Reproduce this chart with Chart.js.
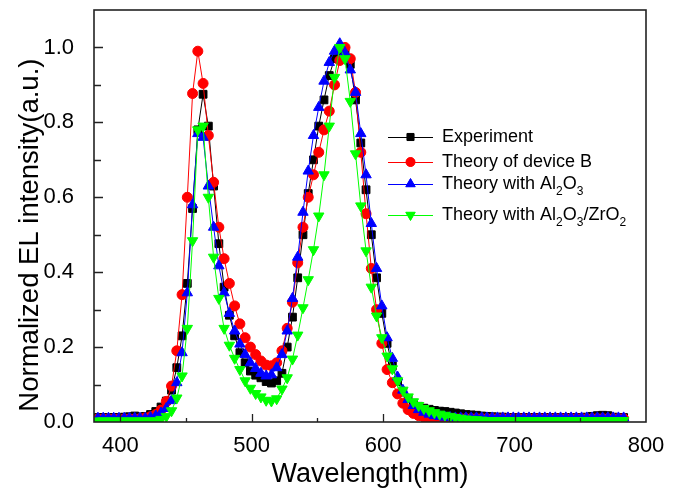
<!DOCTYPE html>
<html>
<head>
<meta charset="utf-8">
<script src="https://cdn.jsdelivr.net/npm/chart.js@4.4.1/dist/chart.umd.min.js"></script>
<style>
  body { margin: 0; background: #fff; }
  #wrap { width: 677px; height: 491px; }
</style>
</head>
<body>
<div id="wrap"><canvas id="c" width="677" height="491"></canvas></div>
<script>
// wavelength grid (nm)
const wavelength = [
  383, 387, 391, 395, 399, 403, 407, 411, 415, 419, 423, 427, 431, 435, 439, 443, 447, 451, 455, 459,
  463, 467, 471, 475, 479, 483, 487, 491, 495, 499, 503, 507, 511, 515, 519, 523, 527, 531, 535, 539,
  543, 547, 551, 555, 559, 563, 567, 571, 575, 579, 583, 587, 591, 595, 599, 603, 607, 611, 615, 619,
  623, 627, 631, 635, 639, 643, 647, 651, 655, 659, 663, 667, 671, 675, 679, 683, 687, 691, 695, 699,
  703, 707, 711, 715, 719, 723, 727, 731, 735, 739, 743, 747, 751, 755, 759, 763, 767, 771, 775, 779,
  783
];

const experiment = [
  0.012, 0.012, 0.011, 0.012, 0.012, 0.013, 0.014, 0.016, 0.013, 0.015, 0.020, 0.028, 0.040, 0.056, 0.085, 0.145, 0.230, 0.370, 0.570, 0.780,
  0.875, 0.790, 0.630, 0.476, 0.360, 0.285, 0.230, 0.185, 0.158, 0.136, 0.125, 0.118, 0.108, 0.104, 0.110, 0.130, 0.200, 0.280, 0.385, 0.500,
  0.610, 0.700, 0.790, 0.860, 0.925, 0.970, 0.990, 0.985, 0.955, 0.860, 0.745, 0.620, 0.500, 0.385, 0.290, 0.210, 0.150, 0.108, 0.080, 0.062,
  0.050, 0.042, 0.037, 0.034, 0.031, 0.029, 0.028, 0.026, 0.024, 0.022, 0.020, 0.019, 0.018, 0.016, 0.015, 0.014, 0.013, 0.013, 0.012, 0.012,
  0.012, 0.012, 0.012, 0.012, 0.012, 0.012, 0.012, 0.012, 0.012, 0.012, 0.012, 0.012, 0.012, 0.013, 0.015, 0.017, 0.018, 0.017, 0.013, 0.012,
  0.012
];

const deviceB = [
  0.008, 0.008, 0.008, 0.008, 0.008, 0.008, 0.008, 0.008, 0.009, 0.011, 0.014, 0.020, 0.032, 0.055, 0.096, 0.190, 0.340, 0.600, 0.877, 0.990,
  0.904, 0.765, 0.640, 0.520, 0.436, 0.370, 0.310, 0.262, 0.225, 0.200, 0.180, 0.163, 0.152, 0.150, 0.158, 0.190, 0.250, 0.320, 0.425, 0.520,
  0.600, 0.660, 0.720, 0.780, 0.830, 0.900, 0.965, 1.000, 0.970, 0.880, 0.720, 0.556, 0.410, 0.300, 0.210, 0.140, 0.105, 0.075, 0.050, 0.033,
  0.023, 0.017, 0.013, 0.011, 0.010, 0.009, 0.009, 0.009, 0.009, 0.009, 0.009, 0.009, 0.009, 0.009, 0.009, 0.009, 0.009, 0.009, 0.009, 0.009,
  0.009, 0.009, 0.009, 0.009, 0.009, 0.009, 0.009, 0.009, 0.009, 0.009, 0.009, 0.009, 0.009, 0.009, 0.009, 0.009, 0.009, 0.009, 0.009, 0.009,
  0.009
];

const withAl2O3 = [
  0.010, 0.010, 0.010, 0.010, 0.010, 0.010, 0.010, 0.010, 0.010, 0.010, 0.012, 0.016, 0.024, 0.036, 0.057, 0.105, 0.185, 0.345, 0.580, 0.770,
  0.760, 0.630, 0.520, 0.417, 0.345, 0.290, 0.243, 0.208, 0.180, 0.158, 0.143, 0.130, 0.123, 0.126, 0.145, 0.180, 0.243, 0.330, 0.440, 0.560,
  0.670, 0.765, 0.840, 0.910, 0.960, 0.990, 1.010, 0.985, 0.940, 0.880, 0.770, 0.660, 0.530, 0.410, 0.310, 0.225, 0.170, 0.120, 0.085, 0.060,
  0.044, 0.033, 0.026, 0.021, 0.017, 0.015, 0.013, 0.012, 0.011, 0.011, 0.011, 0.011, 0.011, 0.011, 0.011, 0.011, 0.011, 0.011, 0.011, 0.011,
  0.011, 0.011, 0.011, 0.011, 0.011, 0.011, 0.011, 0.011, 0.011, 0.011, 0.011, 0.011, 0.011, 0.011, 0.011, 0.011, 0.011, 0.011, 0.011, 0.011,
  0.011
];

const withAl2O3ZrO2 = [
  0.003, 0.003, 0.003, 0.003, 0.003, 0.003, 0.003, 0.003, 0.003, 0.003, 0.003, 0.003, 0.007, 0.015, 0.030, 0.064, 0.123, 0.250, 0.484, 0.780,
  0.790, 0.600, 0.440, 0.330, 0.250, 0.205, 0.170, 0.140, 0.110, 0.090, 0.076, 0.067, 0.058, 0.056, 0.062, 0.088, 0.118, 0.168, 0.232, 0.305,
  0.380, 0.460, 0.550, 0.660, 0.790, 0.920, 1.000, 0.970, 0.856, 0.716, 0.577, 0.457, 0.360, 0.283, 0.225, 0.176, 0.142, 0.110, 0.085, 0.067,
  0.054, 0.044, 0.036, 0.030, 0.025, 0.021, 0.018, 0.015, 0.012, 0.010, 0.008, 0.007, 0.006, 0.005, 0.004, 0.004, 0.004, 0.004, 0.004, 0.004,
  0.004, 0.004, 0.004, 0.004, 0.004, 0.004, 0.004, 0.004, 0.004, 0.004, 0.004, 0.004, 0.004, 0.004, 0.004, 0.004, 0.004, 0.004, 0.004, 0.004,
  0.004
];

const seriesNames = ['Experiment', 'Theory of device B', 'Theory with Al\u2082O\u2083', 'Theory with Al\u2082O\u2083/ZrO\u2082'];
const xMajor = [400, 500, 600, 700, 800];
const xMinor = [450, 550, 650, 750];
const yMajor = [0.0, 0.2, 0.4, 0.6, 0.8, 1.0];
const yMinor = [0.1, 0.3, 0.5, 0.7, 0.9];

const FONT = '"Liberation Sans", Arial, sans-serif';

const styles = [
  { color: '#000000', pointStyle: 'rect', radius: 5.5, rotation: 0, order: 4 },
  { color: '#ff0000', pointStyle: 'circle', radius: 5, rotation: 0, order: 3 },
  { color: '#0000ff', pointStyle: 'triangle', radius: 6, rotation: 0, order: 2 },
  { color: '#00ff00', pointStyle: 'triangle', radius: 6, rotation: 180, order: 1 }
];
const values = [experiment, deviceB, withAl2O3, withAl2O3ZrO2];

const datasets = values.map((vals, i) => ({
  label: seriesNames[i],
  data: wavelength.map((w, j) => ({ x: w, y: vals[j] })),
  borderColor: styles[i].color,
  backgroundColor: styles[i].color,
  borderWidth: 1,
  pointStyle: styles[i].pointStyle,
  pointRadius: styles[i].radius,
  pointRotation: styles[i].rotation,
  pointBorderWidth: 1,
  tension: 0,
  order: styles[i].order
}));

// inward ticks + box frame
const frameAndTicks = {
  id: 'frameAndTicks',
  afterDatasetsDraw(chart) {
    const { ctx, chartArea: a, scales: { x, y } } = chart;
    ctx.save();
    ctx.strokeStyle = '#222';
    ctx.lineWidth = 1.3;
    ctx.beginPath();
    x.ticks.forEach(t => {
      const px = Math.round(x.getPixelForValue(t.value)) + 0.5;
      const len = xMajor.includes(t.value) ? 8 : 4;
      if (t.value <= 380 || t.value >= 800) return;
      ctx.moveTo(px, a.bottom);
      ctx.lineTo(px, a.bottom - len);
    });
    y.ticks.forEach(t => {
      const py = Math.round(y.getPixelForValue(t.value)) + 0.5;
      const len = yMajor.includes(t.value) ? 9 : 7;
      if (t.value <= 0) return;
      ctx.moveTo(a.left, py);
      ctx.lineTo(a.left + len, py);
    });
    ctx.stroke();
    ctx.lineWidth = 1.6;
    ctx.strokeRect(a.left, a.top, a.right - a.left, a.bottom - a.top);
    ctx.restore();
  }
};

// legend inside the plot, with subscripts for the oxide formulas
const subMap = { '\u2082': '2', '\u2083': '3' };
const insideLegend = {
  id: 'insideLegend',
  afterDraw(chart) {
    const { ctx, chartArea: a } = chart;
    const x0 = a.left + 294, x1 = a.left + 339, textX = a.left + 348;
    const rows = [a.top + 127, a.top + 152, a.top + 174, a.top + 205];
    ctx.save();
    seriesNames.forEach((name, i) => {
      const yy = rows[i];
      const s = styles[i];
      ctx.strokeStyle = s.color;
      ctx.lineWidth = 1;
      ctx.beginPath();
      ctx.moveTo(x0, yy + 0.5);
      ctx.lineTo(x1, yy + 0.5);
      ctx.stroke();
      ctx.fillStyle = s.color;
      Chart.helpers.drawPoint(ctx, {
        pointStyle: s.pointStyle, radius: s.radius - 0.5, rotation: s.rotation, borderWidth: 1
      }, (x0 + x1) / 2, yy);
      ctx.fill();
      let cx = textX;
      ctx.fillStyle = '#000';
      ctx.textBaseline = 'middle';
      ctx.textAlign = 'left';
      for (const ch of name) {
        if (subMap[ch]) {
          ctx.font = '12px ' + FONT;
          ctx.fillText(subMap[ch], cx, yy + 8);
          cx += ctx.measureText(subMap[ch]).width;
        } else {
          ctx.font = '18px ' + FONT;
          ctx.fillText(ch, cx, yy);
          cx += ctx.measureText(ch).width;
        }
      }
    });
    ctx.restore();
  }
};

new Chart(document.getElementById('c'), {
  type: 'line',
  data: { datasets },
  plugins: [frameAndTicks, insideLegend],
  options: {
    responsive: false,
    animation: false,
    events: [],
    layout: { padding: { top: 10, right: 31, left: 0, bottom: 0 } },
    plugins: { legend: { display: false }, tooltip: { enabled: false } },
    scales: {
      x: {
        type: 'linear',
        min: 380,
        max: 800,
        grid: { display: false },
        border: { display: false },
        afterBuildTicks: s => { s.ticks = [...xMajor, ...xMinor].sort((p, q) => p - q).map(v => ({ value: v })); },
        afterFit: s => { s.height = 69; s.paddingLeft = 0; s.paddingRight = 0; },
        ticks: {
          autoSkip: false, maxRotation: 0, padding: 3, color: '#000',
          font: { size: 22, family: FONT },
          callback: v => xMajor.includes(v) ? String(v) : ''
        },
        title: {
          display: true, text: 'Wavelength(nm)', color: '#000',
          font: { size: 27, family: FONT }, padding: { top: 0, bottom: 0 }
        }
      },
      y: {
        min: 0,
        max: 1.1,
        grid: { display: false },
        border: { display: false },
        afterBuildTicks: s => { s.ticks = [...yMajor, ...yMinor].sort((p, q) => p - q).map(v => ({ value: v })); },
        afterFit: s => { s.width = 94; s.paddingTop = 0; s.paddingBottom = 0; },
        ticks: {
          autoSkip: false, padding: 12, color: '#000',
          font: { size: 22, family: FONT },
          callback: v => yMajor.includes(v) ? v.toFixed(1) : ''
        },
        title: {
          display: true, text: 'Normalized EL intensity(a.u.)     ', color: '#000',
          font: { size: 27.5, family: FONT }, padding: { top: 14, bottom: 0 }
        }
      }
    }
  }
});
</script>
</body>
</html>
